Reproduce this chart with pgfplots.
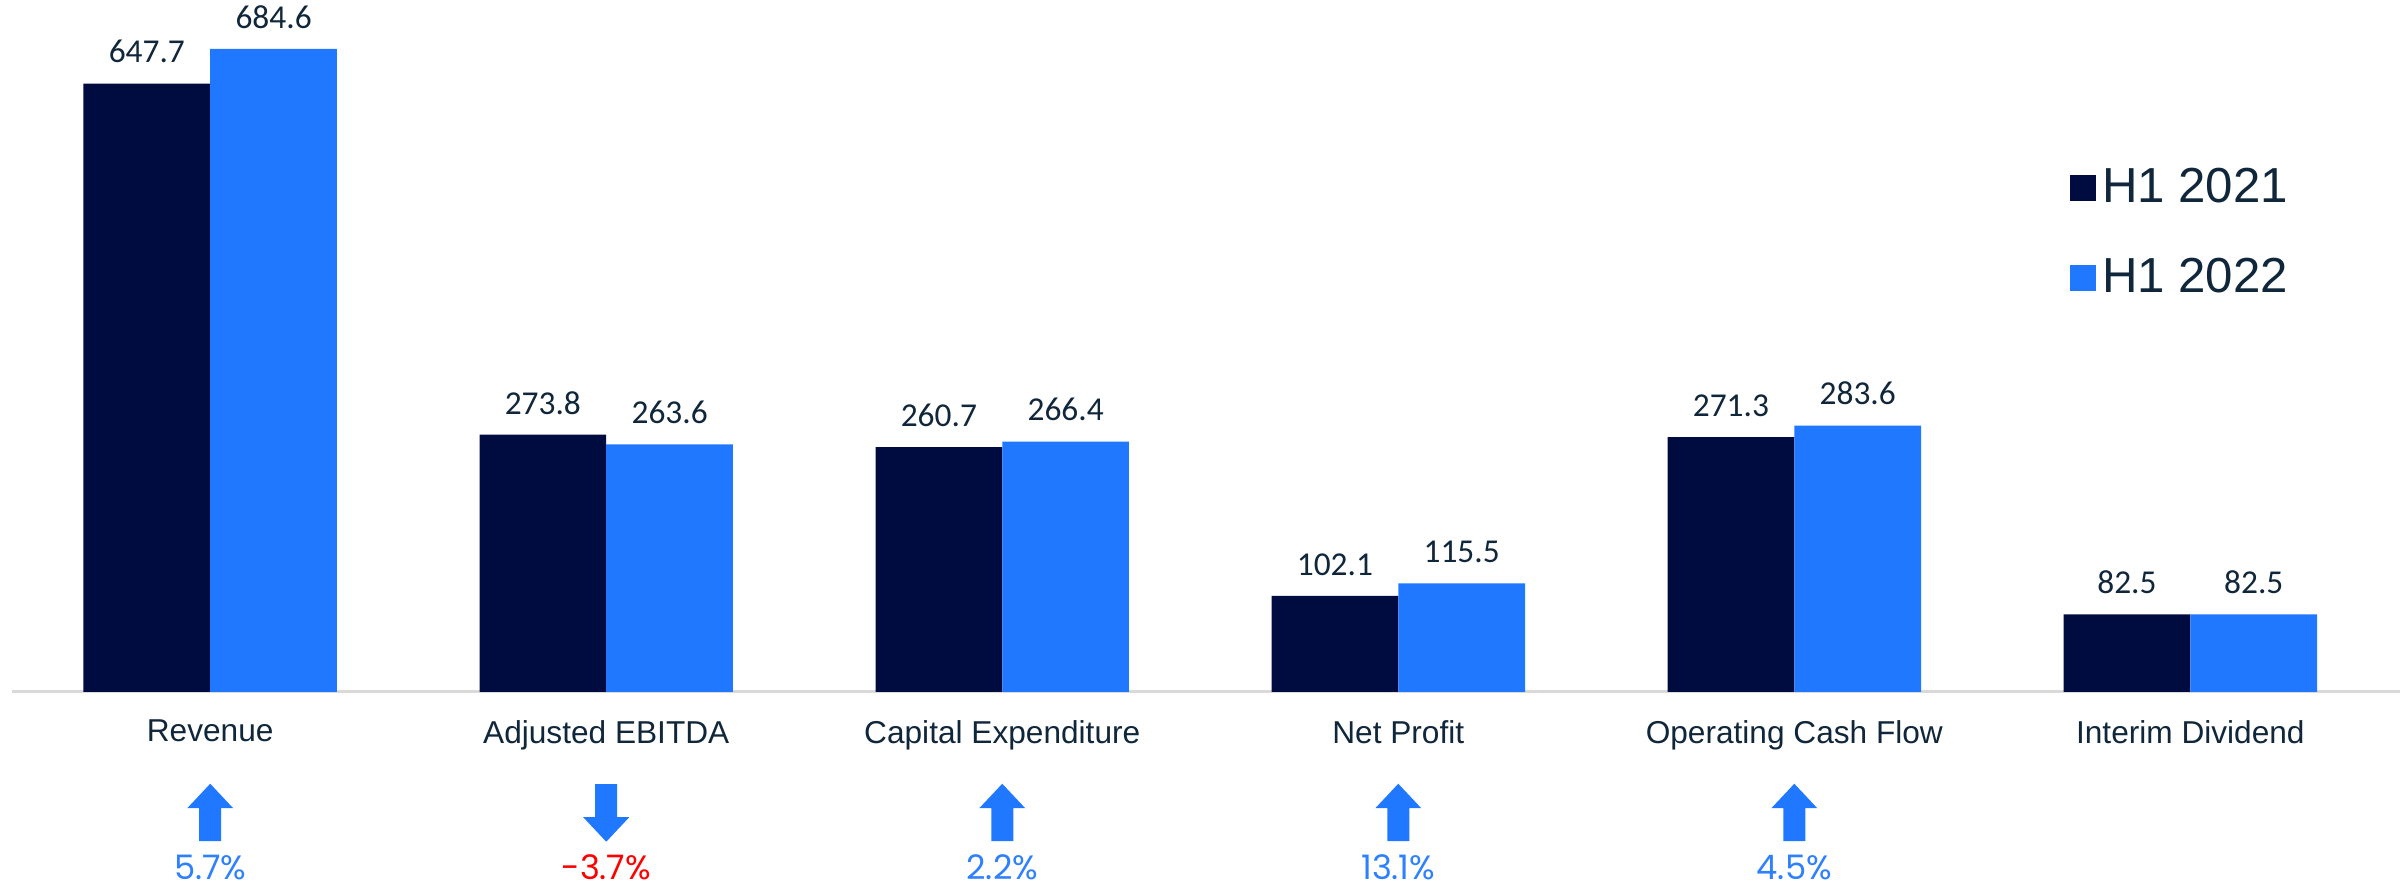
\documentclass[border=0pt]{standalone}
\usepackage{fontspec}
\setmainfont{Liberation Sans}
\newfontfamily\valfont{Carlito}
\newfontfamily\pctfont{Poppins}
\usepackage{pgfplots}
\pgfplotsset{compat=1.18}
\definecolor{hone}{HTML}{000B3F}
\definecolor{htwo}{HTML}{1F78FF}
\definecolor{txt}{HTML}{10263A}
\definecolor{pblue}{HTML}{2F80FF}
\definecolor{pred}{HTML}{FF0000}
\definecolor{baseln}{HTML}{D9D9D9}

% arrows under the categories
\newcommand{\uparr}[1]{\fill[htwo, shift={(axis cs:#1,-128.8)}] (-0.11cm,-0.285cm) -- (0.11cm,-0.285cm) -- (0.11cm,0.045cm) -- (0.23cm,0.045cm) -- (0cm,0.29cm) -- (-0.23cm,0.045cm) -- (-0.11cm,0.045cm) -- cycle;}
\newcommand{\dnarr}[1]{\fill[htwo, shift={(axis cs:#1,-128.8)}] (-0.11cm,0.285cm) -- (0.11cm,0.285cm) -- (0.11cm,-0.045cm) -- (0.23cm,-0.045cm) -- (0cm,-0.29cm) -- (-0.23cm,-0.045cm) -- (-0.11cm,-0.045cm) -- cycle;}

\begin{document}
\begin{tikzpicture}
\path[use as bounding box] (-0.122cm,-1.959cm) rectangle (23.878cm,6.918cm);
\begin{axis}[
  at={(0,0)}, anchor=south west,
  scale only axis, width=23.88cm, height=6.918cm,
  xmin=-0.5, xmax=5.53, ymin=0, ymax=736.8,
  axis y line=none, axis x line*=bottom,
  x axis line style={draw=baseln, line width=0.9pt},
  xtick={0,...,5}, major tick length=0pt,
  xticklabels={Revenue,Adjusted EBITDA,Capital Expenditure,Net Profit,Operating Cash Flow,Interim Dividend},
  xticklabel style={font=\fontsize{9}{11}\selectfont, text=txt, yshift=-0.16cm},
  clip=false,
  nodes near coords={\pgfmathprintnumber[fixed,fixed zerofill,precision=1,assume math mode=true]{\pgfplotspointmeta}},
  nodes near coords style={font=\valfont\fontsize{9.5}{11}\selectfont, text=txt, yshift=0.08cm},
  legend style={at={(0.8615,0.766)}, anchor=north west, draw=none, fill=none,
    font=\fontsize{14}{16}\selectfont, text=txt, inner sep=0pt, row sep=0.377cm,
    nodes={inner sep=0.06cm}},
  legend cell align=left,
]
\addplot[ybar, bar width=0.32, bar shift=-0.16, fill=hone, draw=none, forget plot,
  every node near coord/.append style={xshift=-0.634cm}]
  coordinates {(0,647.7) (1,273.8) (2,260.7) (3,102.1) (4,271.3) (5,82.5)};
\addplot[ybar, bar width=0.32, bar shift=0.16, fill=htwo, draw=none, forget plot,
  every node near coord/.append style={xshift=0.634cm}]
  coordinates {(0,684.6) (1,263.6) (2,266.4) (3,115.5) (4,283.6) (5,82.5)};

\addlegendimage{legend image code/.code={\fill[hone] (0cm,-0.122cm) rectangle (0.245cm,0.122cm);}}
\addlegendentry{H1 2021}
\addlegendimage{legend image code/.code={\fill[htwo] (0cm,-0.122cm) rectangle (0.245cm,0.122cm);}}
\addlegendentry{H1 2022}

\uparr{0}
\dnarr{1}
\uparr{2}
\uparr{3}
\uparr{4}

\tikzset{pct/.style={font=\pctfont\fontsize{9.6}{11}\selectfont, inner sep=0pt}}
\node[pct, text=pblue] at (axis cs:0,-187) {5.7\%};
\node[pct, text=pred] at (axis cs:1,-187) {-3.7\%};
\node[pct, text=pblue] at (axis cs:2,-187) {2.2\%};
\node[pct, text=pblue] at (axis cs:3,-187) {13.1\%};
\node[pct, text=pblue] at (axis cs:4,-187) {4.5\%};
\end{axis}
\end{tikzpicture}
\end{document}
